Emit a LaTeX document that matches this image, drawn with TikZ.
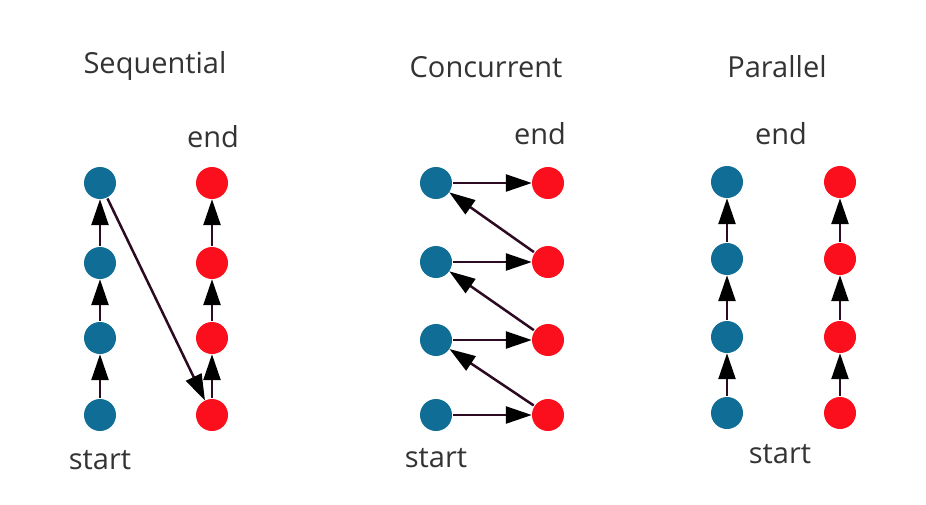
\documentclass[tikz,border=0pt]{standalone}
\usepackage{fontspec}
\setmainfont{Open Sans}
\usepackage{tikz}
\usetikzlibrary{positioning,arrows.meta}

\definecolor{dotblue}{HTML}{106D95}
\definecolor{dotred}{HTML}{FC0F1D}
\definecolor{linedark}{HTML}{2B0A22}

\begin{document}
\begin{tikzpicture}[x=1pt, y=-1pt,
  bdot/.style={circle, fill=dotblue, minimum size=32pt, inner sep=0pt},
  rdot/.style={circle, fill=dotred, minimum size=32pt, inner sep=0pt},
  lbl/.style={font=\fontsize{29}{32}\selectfont, text=black!80},
  arr/.style={-{Triangle[length=26pt, width=17pt, color=black]}, line width=2.5pt, draw=linedark, shorten <=1pt}]
\useasboundingbox (0,0) rectangle (926,504);
% titles
\node[lbl] (tseq) at (155,66) {Sequential};
\node[lbl] (tcon) at (486,67) {Concurrent};
\node[lbl] (tpar) at (777,67) {Parallel};
% sequential
\node[bdot] (s1) at (100,415) {}; \node[bdot] (s2) at (100,338) {};
\node[bdot] (s3) at (100,263) {}; \node[bdot] (s4) at (100,183) {};
\node[rdot] (r1) at (212,415) {}; \node[rdot] (r2) at (212,338) {};
\node[rdot] (r3) at (212,263) {}; \node[rdot] (r4) at (212,183) {};
\node[lbl] (sstart) at (100,460) {start};
\node[lbl] (send) at (213,137) {end};
\draw[arr] (s1) -- (s2); \draw[arr] (s2) -- (s3); \draw[arr] (s3) -- (s4);
\draw[arr] (s4) -- (r1);
\draw[arr] (r1) -- (r2); \draw[arr] (r2) -- (r3); \draw[arr] (r3) -- (r4);
% concurrent
\node[bdot] (c1) at (436,415) {}; \node[bdot] (c2) at (436,340) {};
\node[bdot] (c3) at (436,262) {}; \node[bdot] (c4) at (436,183) {};
\node[rdot] (d1) at (548,415) {}; \node[rdot] (d2) at (548,340) {};
\node[rdot] (d3) at (548,262) {}; \node[rdot] (d4) at (548,183) {};
\node[lbl] (cstart) at (436,458) {start};
\node[lbl] (cend) at (540,134) {end};
\draw[arr] (c1) -- (d1); \draw[arr] (d1) -- (c2);
\draw[arr] (c2) -- (d2); \draw[arr] (d2) -- (c3);
\draw[arr] (c3) -- (d3); \draw[arr] (d3) -- (c4);
\draw[arr] (c4) -- (d4);
% parallel
\node[bdot] (p1) at (727,413) {}; \node[bdot] (p2) at (727,337) {};
\node[bdot] (p3) at (727,259) {}; \node[bdot] (p4) at (727,182) {};
\node[rdot] (q1) at (840,413) {}; \node[rdot] (q2) at (840,337) {};
\node[rdot] (q3) at (840,259) {}; \node[rdot] (q4) at (840,182) {};
\node[lbl] (pstart) at (780,454) {start};
\node[lbl] (pend) at (781,134) {end};
\draw[arr] (p1) -- (p2); \draw[arr] (p2) -- (p3); \draw[arr] (p3) -- (p4);
\draw[arr] (q1) -- (q2); \draw[arr] (q2) -- (q3); \draw[arr] (q3) -- (q4);
\end{tikzpicture}
\end{document}
